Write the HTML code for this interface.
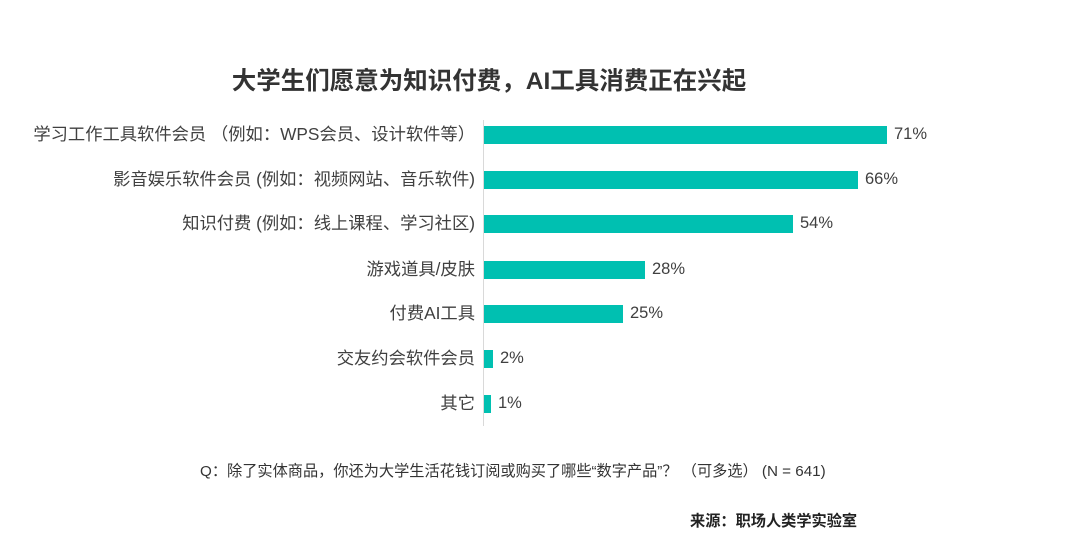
<!DOCTYPE html>
<html><head><meta charset="utf-8"><style>
body{margin:0;width:1080px;height:552px;background:#fff;font-family:"Liberation Sans","Noto Sans CJK SC",sans-serif;color:#333;position:relative;overflow:hidden}
.t{position:absolute;white-space:nowrap}
.l{position:absolute;right:605px;font-size:17.3px;color:#404040;white-space:nowrap;line-height:20px}
.b{position:absolute;left:484px;height:18px;background:#00c0b1}
.v{position:absolute;font-size:16.5px;color:#404040;line-height:20px}
</style></head><body>
<div class="t" style="left:0;width:978px;text-align:center;top:62px;font-size:24.5px;font-weight:bold;color:#333">大学生们愿意为知识付费，AI工具消费正在兴起</div>
<div style="position:absolute;left:483px;top:120px;width:1px;height:306px;background:#d9d9d9"></div>

<div class="l" style="top:124px">学习工作工具软件会员 （例如：WPS会员、设计软件等）</div>
<div class="b" style="top:126px;width:403px"></div><div class="v" style="left:894px;top:124px">71%</div>

<div class="l" style="top:169px">影音娱乐软件会员 (例如：视频网站、音乐软件)</div>
<div class="b" style="top:171px;width:374px"></div><div class="v" style="left:865px;top:169px">66%</div>

<div class="l" style="top:213px">知识付费 (例如：线上课程、学习社区)</div>
<div class="b" style="top:215px;width:309px"></div><div class="v" style="left:800px;top:213px">54%</div>

<div class="l" style="top:259px">游戏道具/皮肤</div>
<div class="b" style="top:261px;width:161px"></div><div class="v" style="left:652px;top:259px">28%</div>

<div class="l" style="top:303px">付费AI工具</div>
<div class="b" style="top:305px;width:139px"></div><div class="v" style="left:630px;top:303px">25%</div>

<div class="l" style="top:348px">交友约会软件会员</div>
<div class="b" style="top:350px;width:9px"></div><div class="v" style="left:500px;top:348px">2%</div>

<div class="l" style="top:393px">其它</div>
<div class="b" style="top:395px;width:7px"></div><div class="v" style="left:498px;top:393px">1%</div>

<div class="t" style="left:200px;top:459px;font-size:15.2px;color:#333">Q：除了实体商品，你还为大学生活花钱订阅或购买了哪些“数字产品”？ （可多选） (N = 641)</div>
<div class="t" style="left:690px;top:509px;font-size:15.2px;font-weight:bold;color:#222">来源：职场人类学实验室</div>
</body></html>
